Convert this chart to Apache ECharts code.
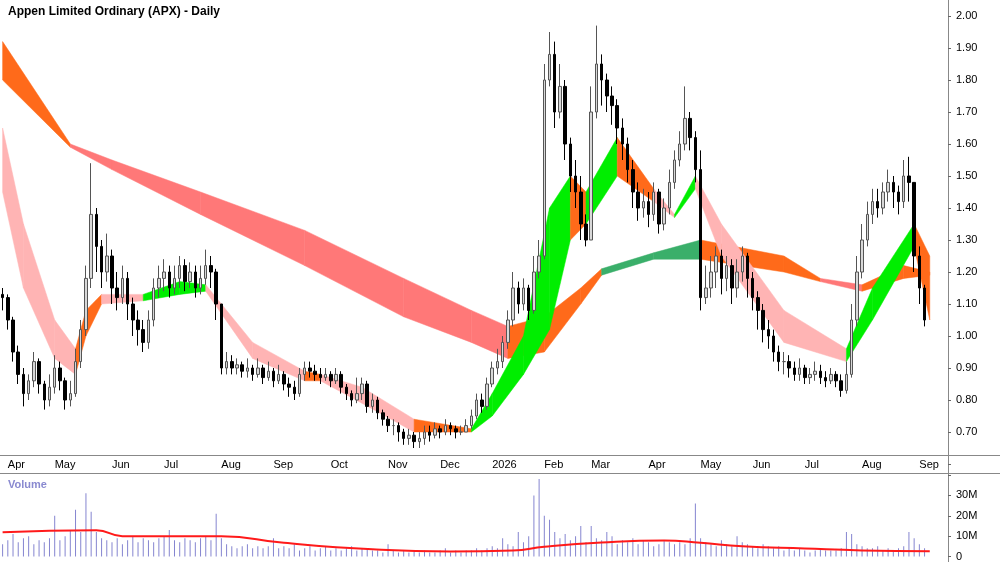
<!DOCTYPE html>
<html lang="en">
<head>
<meta charset="UTF-8">
<title>APX Daily</title>
<style>
  html, body { margin: 0; padding: 0; background: #fff; }
  #chart { width: 1000px; height: 562px; }
</style>
<script src="https://cdn.jsdelivr.net/npm/echarts@6/dist/echarts.min.js"></script>
</head>
<body>
<div id="chart"></div>
<script type="application/javascript">
// closes, one candle per two trading days; open = previous close
var closes = [1.12,1.05,0.95,0.88,0.82,0.86,0.92,0.85,0.80,0.84,
  0.90,0.86,0.80,0.82,0.92,1.02,1.18,1.38,1.28,1.20,
  1.25,1.15,1.12,1.18,1.10,1.05,1.02,0.98,1.05,1.15,
  1.18,1.20,1.15,1.18,1.22,1.17,1.20,1.15,1.18,1.22,
  1.20,1.10,0.90,0.92,0.90,0.91,0.89,0.90,0.88,0.90,
  0.87,0.89,0.86,0.88,0.85,0.84,0.82,0.88,0.90,0.89,
  0.88,0.87,0.88,0.86,0.88,0.84,0.82,0.80,0.82,0.85,
  0.78,0.80,0.76,0.74,0.72,0.72,0.70,0.68,0.69,0.67,
  0.68,0.70,0.69,0.71,0.70,0.72,0.71,0.70,0.70,0.72,
  0.75,0.80,0.78,0.85,0.90,0.92,0.98,1.05,1.15,1.10,
  1.15,1.08,1.20,1.25,1.80,1.88,1.70,1.78,1.60,1.50,
  1.45,1.35,1.30,1.70,1.85,1.80,1.75,1.72,1.65,1.60,
  1.52,1.45,1.40,1.42,1.38,1.45,1.35,1.40,1.48,1.55,
  1.60,1.68,1.62,1.52,1.12,1.15,1.20,1.25,1.18,1.22,
  1.15,1.20,1.25,1.18,1.12,1.08,1.02,1.00,0.95,0.92,
  0.92,0.90,0.88,0.90,0.87,0.88,0.89,0.87,0.86,0.88,
  0.86,0.83,0.88,1.05,1.20,1.30,1.38,1.42,1.40,1.45,
  1.48,1.45,1.42,1.50,1.48,1.25,1.15,1.05];
var firstOpen = 1.13;
var highs = [1.15,1.13,1.06,0.97,0.90,0.88,0.95,0.93,0.86,0.88,
  0.94,0.92,0.87,0.86,0.96,1.05,1.22,1.54,1.40,1.30,
  1.32,1.27,1.20,1.22,1.20,1.12,1.08,1.05,1.08,1.18,
  1.22,1.24,1.22,1.22,1.25,1.24,1.23,1.22,1.22,1.27,
  1.25,1.21,1.10,0.95,0.94,0.93,0.92,0.93,0.91,0.93,
  0.91,0.92,0.90,0.91,0.89,0.87,0.86,0.90,0.92,0.92,
  0.91,0.90,0.90,0.89,0.90,0.89,0.85,0.83,0.87,0.87,
  0.86,0.82,0.81,0.77,0.75,0.74,0.73,0.71,0.71,0.70,
  0.70,0.72,0.72,0.73,0.72,0.74,0.73,0.72,0.72,0.74,
  0.77,0.82,0.82,0.87,0.92,0.96,1.00,1.08,1.20,1.17,
  1.18,1.16,1.25,1.30,1.85,1.95,1.92,1.85,1.80,1.62,
  1.55,1.50,1.38,1.78,1.97,1.88,1.82,1.78,1.74,1.68,
  1.62,1.55,1.48,1.46,1.45,1.48,1.46,1.43,1.52,1.58,
  1.64,1.78,1.70,1.64,1.58,1.22,1.25,1.28,1.27,1.25,
  1.24,1.24,1.28,1.26,1.20,1.14,1.10,1.05,1.02,0.97,
  0.95,0.94,0.92,0.93,0.91,0.90,0.92,0.91,0.89,0.90,
  0.89,0.88,0.92,1.10,1.25,1.35,1.42,1.46,1.46,1.48,
  1.52,1.50,1.47,1.55,1.56,1.48,1.28,1.16];
var lows = [1.08,1.02,0.92,0.85,0.78,0.80,0.84,0.82,0.77,0.78,
  0.82,0.83,0.77,0.78,0.81,0.90,1.00,1.15,1.20,1.15,
  1.17,1.10,1.08,1.10,1.05,1.00,0.97,0.95,0.96,1.03,
  1.12,1.14,1.12,1.13,1.15,1.14,1.15,1.12,1.13,1.16,
  1.15,1.05,0.88,0.88,0.88,0.88,0.87,0.87,0.86,0.87,
  0.85,0.86,0.84,0.85,0.83,0.81,0.80,0.81,0.86,0.87,
  0.86,0.85,0.86,0.84,0.85,0.82,0.80,0.78,0.79,0.80,
  0.76,0.76,0.74,0.72,0.70,0.69,0.67,0.66,0.66,0.65,
  0.65,0.66,0.67,0.68,0.68,0.69,0.69,0.68,0.69,0.70,
  0.71,0.74,0.76,0.77,0.84,0.88,0.90,0.96,1.03,1.07,
  1.08,1.05,1.07,1.18,1.24,1.78,1.65,1.68,1.55,1.45,
  1.40,1.30,1.28,1.30,1.68,1.72,1.70,1.66,1.60,1.55,
  1.48,1.40,1.36,1.37,1.34,1.36,1.32,1.33,1.38,1.46,
  1.53,1.58,1.58,1.48,1.08,1.10,1.12,1.15,1.13,1.14,
  1.10,1.12,1.17,1.12,1.08,1.02,0.98,0.96,0.92,0.89,
  0.88,0.87,0.86,0.86,0.85,0.85,0.86,0.85,0.84,0.85,
  0.84,0.81,0.82,0.87,1.03,1.18,1.28,1.35,1.37,1.38,
  1.42,1.40,1.38,1.40,1.42,1.20,1.10,1.03];
var volumes = [6,8,11,7,9,10,6,8,7,9,
  20,8,10,13,23,12,31,22,12,9,
  8,7,9,6,8,10,7,9,8,7,
  9,10,13,8,7,9,8,7,9,10,
  8,21,9,6,5,4,5,6,4,5,
  4,5,9,4,5,4,6,3,4,5,
  3,4,5,3,4,3,4,5,3,4,
  4,3,3,2,6,3,2,3,2,3,
  2,3,2,2,3,4,2,3,2,3,
  3,4,3,4,5,4,9,6,5,12,
  7,10,30,38,20,18,12,9,11,8,
  10,15,7,15,9,8,12,10,6,8,
  7,9,6,8,7,5,6,8,7,6,
  7,6,9,26,9,7,6,5,8,6,
  5,10,7,6,5,4,6,5,4,5,
  3,4,3,4,3,2,3,4,3,3,
  3,4,12,11,6,5,4,4,5,3,
  4,3,4,5,12,9,6,4];
var slotCount = 182;
var monthNames = ['Apr','May','Jun','Jul','Aug','Sep','Oct','Nov','Dec','2026','Feb','Mar','Apr','May','Jun','Jul','Aug','Sep'];
var monthIdx = [1,10,21,31,42,52,63,74,84,94,104,113,124,134,144,154,165,176];
var priceTicks = [0.70,0.80,0.90,1.00,1.10,1.20,1.30,1.40,1.50,1.60,1.70,1.80,1.90,2.00];

// short-term ribbon knots
var shortX  = [0,3.8,9.6,13.8,16.3,19.2,26.9,33.6,39.3,48,57.6,61.4,69.1,78.7,90.2,94,99.8,104.6,109.4,111.7,118,124.8,129,133.4,138.2,149.7,162.2,167,175,177.5];
var shortUp = [1.65,1.35,1.05,0.96,1.08,1.13,1.13,1.17,1.16,0.98,0.89,0.88,0.84,0.74,0.71,0.82,1.00,1.40,1.50,1.45,1.62,1.46,1.38,1.50,1.35,1.08,0.96,1.15,1.35,1.25];
var shortLo = [1.45,1.15,0.93,0.88,1.00,1.10,1.11,1.13,1.14,0.93,0.86,0.86,0.79,0.70,0.70,0.75,0.88,1.02,1.30,1.35,1.50,1.42,1.37,1.46,1.25,0.98,0.92,1.05,1.28,1.05];
var shortCol = ['p','p','p','o','o','p','g','g','p','p','o','p','p','o','g','g','g','g','o','g','o','p','g','p','p','p','g','g','o'];
// long-term ribbon knots
var longX  = [0,13.4,21.1,38.4,57.6,76.8,90.2,96.9,103.6,111.3,115.2,124.8,133.8,149.7,157.4,165,172.8,177.5];
var longUp = [1.92,1.60,1.55,1.45,1.33,1.18,1.08,1.03,1.06,1.15,1.21,1.26,1.30,1.25,1.18,1.16,1.22,1.20];
var longLo = [1.80,1.59,1.52,1.38,1.22,1.06,0.98,0.93,0.95,1.10,1.19,1.24,1.24,1.20,1.17,1.14,1.18,1.19];
var longCol = ['o','r','r','r','r','r','r','o','o','o','d','d','o','o','r','o','o'];
// volume average knots (millions)
var volAvgX = [0,18.4,23,42,53.7,71,86.4,97.9,103.6,115.2,126.7,134.4,142,153.5,165,177.5];
var volAvg  = [11.9,12.9,10,10,6.7,3.5,2.4,2.9,4.8,6.9,7.9,6.7,5,3.9,3,2.6];

var colorKeys = ['p', 'g', 'o', 'r', 'd'];
var colorList = ['#ffb4b4', '#00ee00', '#ff6a1a', '#ff7878', '#3aaf6a'];

var cats = [];
for (var i = 0; i < slotCount; i++) cats.push(i);

var candleData = closes.map(function (c, i) {
  var o = i === 0 ? firstOpen : closes[i - 1];
  return [o, c, Math.min(lows[i], o, c), Math.max(highs[i], o, c)];
});

function bandSegments(xs, up, lo, col) {
  var segs = [];
  for (var k = 0; k < xs.length - 1; k++) {
    segs.push([xs[k], xs[k + 1], up[k], up[k + 1], lo[k], lo[k + 1], colorKeys.indexOf(col[k])]);
  }
  return segs;
}

function bandRender(params, api) {
  var a = api.coord([api.value(0), api.value(2)]);
  var b = api.coord([api.value(1), api.value(3)]);
  var c = api.coord([api.value(1), api.value(5)]);
  var d = api.coord([api.value(0), api.value(4)]);
  var fill = colorList[api.value(6)];
  return {
    type: 'polygon',
    shape: { points: [a, b, c, d] },
    style: { fill: fill, stroke: fill, lineWidth: 0.5 }
  };
}

var chart = echarts.init(document.getElementById('chart'));
var option = {
  animation: false,
  backgroundColor: '#fff',
  textStyle: { fontFamily: 'Liberation Sans, Arial, sans-serif' },
  title: [
    { text: 'Appen Limited Ordinary (APX) - Daily', left: 3, top: 1,
      textStyle: { fontSize: 12, fontWeight: 'bold', color: '#000' } },
    { text: 'Volume', left: 3, top: 474,
      textStyle: { fontSize: 11, fontWeight: 'bold', color: '#8a8ad0' } }
  ],
  graphic: [
    { type: 'line', shape: { x1: 0, y1: 455.5, x2: 1000, y2: 455.5 }, style: { stroke: '#888', lineWidth: 1 } },
    { type: 'line', shape: { x1: 0, y1: 473.5, x2: 1000, y2: 473.5 }, style: { stroke: '#888', lineWidth: 1 } },
    { type: 'line', shape: { x1: 948.5, y1: 0, x2: 948.5, y2: 562 }, style: { stroke: '#888', lineWidth: 1 } }
  ],
  grid: [
    { left: 0, right: 52, top: 0, height: 464 },
    { left: 0, right: 52, top: 455, height: 18 },
    { left: 0, right: 52, top: 475, height: 84 }
  ],
  xAxis: [
    { type: 'category', gridIndex: 0, data: cats, show: false },
    { type: 'category', gridIndex: 1, data: cats, position: 'top',
      axisLine: { show: false },
      axisTick: { inside: true, length: 8, lineStyle: { color: '#444' },
        interval: function (idx) { return monthIdx.indexOf(idx) >= 0; } },
      axisLabel: { inside: true, margin: 4, align: 'left', verticalAlign: 'top', fontSize: 11, color: '#000',
        interval: function (idx) { return monthIdx.indexOf(idx) >= 0; },
        formatter: function (v, idx) { var k = monthIdx.indexOf(idx); return k >= 0 ? monthNames[k] : ''; } } },
    { type: 'category', gridIndex: 2, data: cats, show: false }
  ],
  yAxis: [
    { type: 'value', gridIndex: 0, position: 'right', min: 0.6, max: 2.05, interval: 0.1,
      splitLine: { show: false }, axisLine: { show: false },
      axisTick: { show: true, length: 3, lineStyle: { color: '#666' } },
      axisLabel: { fontSize: 11, color: '#000', margin: 8, showMaxLabel: false,
        formatter: function (v) {
          var r = Math.round(v * 100) / 100;
          return priceTicks.indexOf(r) >= 0 ? r.toFixed(2) : '';
        } } },
    { type: 'value', gridIndex: 1, show: false },
    { type: 'value', gridIndex: 2, position: 'right', min: 0, max: 40, interval: 10,
      splitLine: { show: false }, axisLine: { show: false },
      axisTick: { show: true, length: 3, lineStyle: { color: '#666' } },
      axisLabel: { fontSize: 11, color: '#000', margin: 8,
        formatter: function (v) { return v === 0 ? '0' : (v < 40 ? v + 'M' : ''); } } }
  ],
  series: [
    { type: 'custom', name: 'long', xAxisIndex: 0, yAxisIndex: 0, renderItem: bandRender,
      data: bandSegments(longX, longUp, longLo, longCol) },
    { type: 'custom', name: 'short', xAxisIndex: 0, yAxisIndex: 0, renderItem: bandRender,
      data: bandSegments(shortX, shortUp, shortLo, shortCol) },
    { type: 'candlestick', xAxisIndex: 0, yAxisIndex: 0, barWidth: 3,
      itemStyle: { color: '#d8d8d8', color0: '#000', borderColor: '#555', borderColor0: '#000', borderWidth: 1 },
      data: candleData },
    { type: 'bar', xAxisIndex: 2, yAxisIndex: 2, barWidth: 1,
      itemStyle: { color: '#8585d0' }, data: volumes },
    { type: 'line', xAxisIndex: 2, yAxisIndex: 2, smooth: true, symbol: 'none',
      lineStyle: { color: '#ff1a1a', width: 2 },
      data: volAvgX.map(function (x, k) { return [x, volAvg[k]]; }) }
  ]
};
chart.setOption(option);
</script>
</body>
</html>
